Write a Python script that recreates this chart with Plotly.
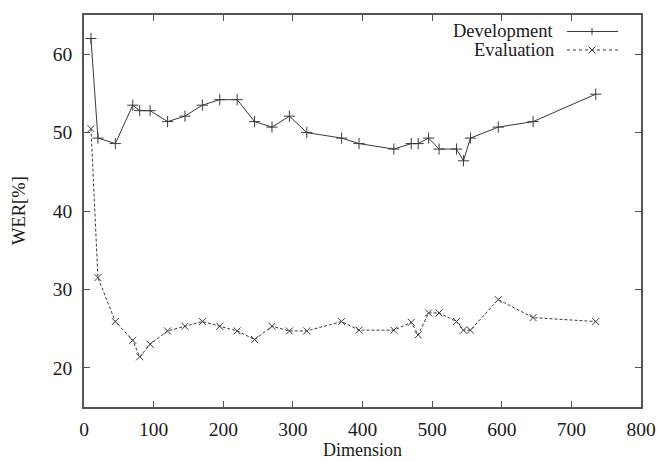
import plotly.graph_objects as go

dim_dev = [10, 20, 45, 70, 80, 95, 120, 145, 170, 195, 220, 245, 270, 295, 320,
           370, 395, 445, 470, 480, 495, 510, 535, 545, 555, 595, 645, 735]
wer_dev = [62.0, 49.3, 48.6, 53.5, 52.8, 52.8, 51.4, 52.1, 53.5, 54.2, 54.2, 51.4, 50.7, 52.1, 50.0,
           49.3, 48.6, 47.9, 48.6, 48.6, 49.3, 47.9, 47.9, 46.4, 49.3, 50.7, 51.4, 54.9]

dim_eval = [10, 20, 45, 70, 80, 95, 120, 145, 170, 195, 220, 245, 270, 295, 320,
            370, 395, 445, 470, 480, 495, 510, 535, 545, 555, 595, 645, 735]
wer_eval = [50.5, 31.5, 25.9, 23.5, 21.4, 23.0, 24.7, 25.3, 25.9, 25.3, 24.7, 23.6, 25.3, 24.7, 24.7,
            25.9, 24.8, 24.8, 25.8, 24.2, 27.0, 27.0, 25.9, 24.8, 24.8, 28.7, 26.4, 25.9]

x_ticks = [0, 100, 200, 300, 400, 500, 600, 700, 800]
y_ticks = [20, 30, 40, 50, 60]
series_names = ["Development", "Evaluation"]
x_title = "Dimension"
y_title = "WER[%]"

FONT = "Liberation Serif, Times New Roman, serif"
LINE = "#3a3a3a"
AXC = "#555555"
TXT = "#1a1a1a"

fig = go.Figure()
fig.add_trace(go.Scatter(
    x=dim_dev, y=wer_dev, mode="lines+markers", name=series_names[0],
    line=dict(color=LINE, width=1),
    marker=dict(symbol="cross-thin", size=8, line=dict(color=LINE, width=1)),
    showlegend=False))
fig.add_trace(go.Scatter(
    x=dim_eval, y=wer_eval, mode="lines+markers", name=series_names[1],
    line=dict(color=LINE, width=1, dash="3px,2px"),
    marker=dict(symbol="x-thin", size=7, line=dict(color=LINE, width=1)),
    showlegend=False))

# pixel -> paper helpers for the plot frame
L, R, T, B = 84, 641, 15, 407
def px(x):
    return (x - L) / (R - L)
def py(y):
    return (B - y) / (B - T)

# manual gnuplot-style legend (text right-aligned, sample on right)
legend_rows = [(31.5, "solid", "+"), (50, "dash", "x")]
for (yy, dash, mk), name in zip(legend_rows, series_names):
    fig.add_annotation(x=px(556), y=py(yy), xref="paper", yref="paper", text=name,
                       showarrow=False, xanchor="right", yanchor="middle",
                       font=dict(family=FONT, size=18.5, color=TXT))
    fig.add_shape(type="line", xref="paper", yref="paper",
                  x0=px(567), x1=px(618), y0=py(yy), y1=py(yy),
                  line=dict(color=LINE, width=1, dash="dot" if dash == "dash" else "solid"))
    cx, cy, h = 592, yy, 3.5
    if mk == "+":
        fig.add_shape(type="line", xref="paper", yref="paper", x0=px(cx), x1=px(cx),
                      y0=py(cy - h), y1=py(cy + h), line=dict(color=LINE, width=1))
    else:
        fig.add_shape(type="line", xref="paper", yref="paper", x0=px(cx - h), x1=px(cx + h),
                      y0=py(cy - h), y1=py(cy + h), line=dict(color=LINE, width=1))
        fig.add_shape(type="line", xref="paper", yref="paper", x0=px(cx - h), x1=px(cx + h),
                      y0=py(cy + h), y1=py(cy - h), line=dict(color=LINE, width=1))

# axis titles as annotations (fixed positions)
fig.add_annotation(x=px(362), y=py(462), xref="paper", yref="paper", text=x_title,
                   showarrow=False, xanchor="center", yanchor="bottom",
                   font=dict(family=FONT, size=18, color=TXT))
fig.add_annotation(x=px(19), y=py(211), xref="paper", yref="paper", text=y_title,
                   showarrow=False, xanchor="center", yanchor="middle", textangle=-90,
                   font=dict(family=FONT, size=18.5, color=TXT))

axis_common = dict(showgrid=False, zeroline=False, showline=True, linecolor=AXC, linewidth=1.5,
                   mirror="ticks", ticks="inside", ticklen=6, tickcolor=AXC, tickwidth=1,
                   automargin=False,
                   tickfont=dict(family=FONT, size=19.5, color=TXT))
fig.update_xaxes(range=[0, 800], tickvals=x_ticks, ticktext=[str(v) for v in x_ticks],
                 ticklabelstandoff=4, **axis_common)
fig.update_yaxes(range=[15, 65], tickvals=y_ticks, ticktext=[str(v) for v in y_ticks],
                 ticklabelstandoff=6, **axis_common)

fig.update_layout(width=658, height=462, margin=dict(l=84, r=17, t=15, b=55),
                  plot_bgcolor="white", paper_bgcolor="white", showlegend=False,
                  font=dict(family=FONT))
fig.write_html("out.html")
